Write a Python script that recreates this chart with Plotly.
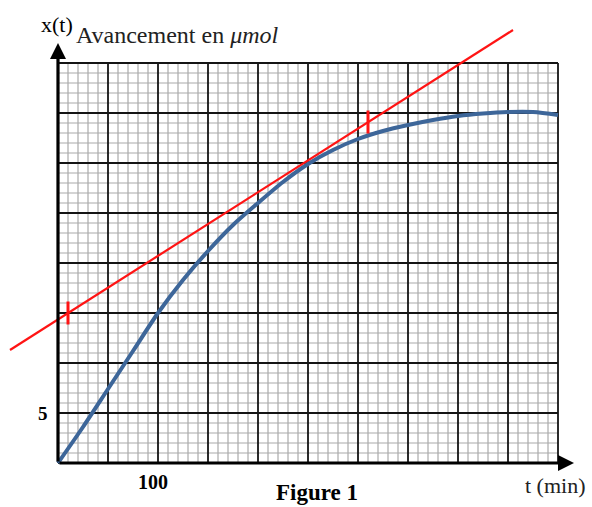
import plotly.graph_objects as go

# ---- data ----
t_min = [0, 25, 50, 75, 100, 125, 150, 175, 200, 225, 250, 275, 300,
         325, 350, 375, 400, 425, 450, 475, 500]
x_umol = [0, 3.6, 7.4, 11.2, 15.0, 18.3, 21.2, 23.8, 26.0, 28.1, 29.9,
          31.3, 32.4, 33.2, 33.8, 34.3, 34.7, 34.95, 35.1, 35.1, 34.8]

tangent_t = [-48, 455]
tangent_x = [11.3, 43.3]
mark_t = [10, 310]
mark_x = [15.0, 34.1]

x_tick_val, x_tick_label = 100, "100"
y_tick_val, y_tick_label = 5, "5"

T_MAX, X_MAX = 500, 40
T_MINOR, T_MAJOR = 10, 50
X_MINOR, X_MAJOR = 1, 5

SERIF = "Liberation Serif, Times New Roman, serif"
BLUE = "#3d6699"
RED = "#ff1414"

fig = go.Figure()

# graph-paper grid
shapes = []
minor_style = dict(color="#aaaaaa", width=1.2)
major_style = dict(color="#141414", width=1.8)
for t in range(0, T_MAX + 1, T_MINOR):
    if t % T_MAJOR:
        shapes.append(dict(type="line", xref="x", yref="y", x0=t, x1=t, y0=0, y1=X_MAX,
                           line=minor_style, layer="below"))
for x in range(0, X_MAX + 1, X_MINOR):
    if x % X_MAJOR:
        shapes.append(dict(type="line", xref="x", yref="y", x0=0, x1=T_MAX, y0=x, y1=x,
                           line=minor_style, layer="below"))
for t in range(0, T_MAX + 1, T_MAJOR):
    shapes.append(dict(type="line", xref="x", yref="y", x0=t, x1=t, y0=0, y1=X_MAX,
                       line=major_style, layer="below"))
for x in range(0, X_MAX + 1, X_MAJOR):
    shapes.append(dict(type="line", xref="x", yref="y", x0=0, x1=T_MAX, y0=x, y1=x,
                       line=major_style, layer="below"))

# experimental curve
fig.add_trace(go.Scatter(x=t_min, y=x_umol, mode="lines",
                         line=dict(color=BLUE, width=4, shape="spline", smoothing=0.8),
                         hoverinfo="skip"))
# tangent
fig.add_trace(go.Scatter(x=tangent_t, y=tangent_x, mode="lines",
                         line=dict(color=RED, width=2.2), hoverinfo="skip"))
# red marks on tangent
for tt, xx in zip(mark_t, mark_x):
    fig.add_trace(go.Scatter(x=[tt, tt], y=[xx - 1.15, xx + 1.15], mode="lines",
                             line=dict(color=RED, width=3), hoverinfo="skip"))

annotations = [
    # axes with arrows
    dict(x=516, y=0, ax=0, ay=0, xref="x", yref="y", axref="x", ayref="y",
         showarrow=True, arrowhead=2, arrowsize=1, arrowwidth=3.2, arrowcolor="black", text=""),
    dict(x=0, y=42.0, ax=0, ay=0, xref="x", yref="y", axref="x", ayref="y",
         showarrow=True, arrowhead=2, arrowsize=1, arrowwidth=3.2, arrowcolor="black", text=""),
    # texts
    dict(x=-19, y=43.9, xref="x", yref="y", text="x(t)", showarrow=False,
         font=dict(family=SERIF, size=22, color="black"), xanchor="left", yanchor="middle"),
    dict(x=16, y=42.8, xref="x", yref="y", text="Avancement en <i>μmol</i>", showarrow=False,
         font=dict(family=SERIF, size=24, color="#222"), xanchor="left", yanchor="middle"),
    dict(x=-8, y=y_tick_val, xref="x", yref="y", text="<b>" + y_tick_label + "</b>",
         showarrow=False, font=dict(family=SERIF, size=19, color="black"),
         xanchor="right", yanchor="middle"),
    dict(x=x_tick_val - 5, y=-1.9, xref="x", yref="y", text="<b>" + x_tick_label + "</b>",
         showarrow=False, font=dict(family=SERIF, size=20, color="black"),
         xanchor="center", yanchor="middle"),
    dict(x=259, y=-2.95, xref="x", yref="y", text="<b>Figure 1</b>", showarrow=False,
         font=dict(family=SERIF, size=23, color="black"), xanchor="center", yanchor="middle"),
    dict(x=497, y=-2.2, xref="x", yref="y", text="t (min)", showarrow=False,
         font=dict(family=SERIF, size=22, color="#222"), xanchor="center", yanchor="middle"),
]

fig.update_layout(
    width=592, height=507,
    margin=dict(l=0, r=0, t=0, b=0),
    paper_bgcolor="white", plot_bgcolor="white",
    showlegend=False,
    shapes=shapes,
    annotations=annotations,
    xaxis=dict(range=[-58, 534], visible=False, fixedrange=True),
    yaxis=dict(range=[-4.4, 46.3], visible=False, fixedrange=True),
)

fig.write_html("out.html", config={"displayModeBar": False},
               post_script="document.body.style.margin='0';document.body.style.overflow='hidden';")
